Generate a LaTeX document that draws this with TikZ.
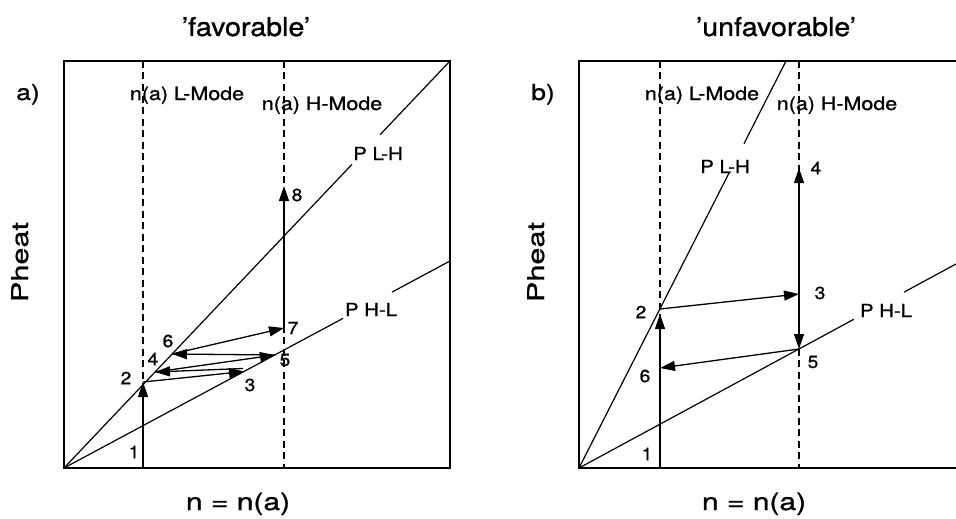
\documentclass[tikz,border=0pt]{standalone}
\usepackage{fontspec}
\setmainfont{TeX Gyre Heros}[UprightFeatures={FakeBold=0.9}]
\usepackage{graphicx}
\usetikzlibrary{arrows.meta,calc}
\newcommand\sx[2]{\scalebox{#1}[1]{#2}}
\begin{document}
\begin{tikzpicture}[x=1pt,y=-1pt,
  frame/.style={line width=1.4pt},
  curve/.style={line width=1.2pt},
  modeline/.style={line width=1.5pt, dash pattern=on 7pt off 4.5pt},
  flow/.style={line width=1.3pt, -{Triangle[length=15pt,width=10pt]}},
  ttl/.style={font=\fontsize{26}{30}\selectfont, anchor=base, inner sep=0pt},
  axl/.style={font=\fontsize{24}{28}\selectfont, anchor=base, inner sep=0pt},
  modelbl/.style={font=\fontsize{18.5}{22}\selectfont, anchor=base, inner sep=0pt},
  plbl/.style={font=\fontsize{18}{21}\selectfont, anchor=base, inner sep=0pt},
  num/.style={font=\fontsize{17.5}{20}\selectfont, anchor=center, inner sep=0pt},
  panl/.style={font=\fontsize{22}{26}\selectfont, anchor=base, inner sep=0pt},
  pheat/.style={font=\fontsize{23}{27}\selectfont, anchor=base, rotate=90, inner sep=0pt}]
\fill[white] (0,0) rectangle (956,519);
\useasboundingbox (0,0) rectangle (956,519);

%% ---------------- panel a ----------------
\coordinate (Oa) at (64,468);
\coordinate (TRa) at (450,61);
\coordinate (Ea) at (450,261);
\coordinate (LaT) at (143,61);
\coordinate (LaB) at (143,468);
\coordinate (HaT) at (284,61);
\coordinate (HaB) at (284,468);
\draw[frame] (64,61) rectangle (450,468);
\draw[modeline] (LaT) -- (LaB);
\draw[modeline] (HaT) -- (HaB);
\draw[curve] (Oa) -- ($(Oa)!0.746!(TRa)$);
\draw[curve] ($(Oa)!0.819!(TRa)$) -- (TRa);
\draw[curve] (Oa) -- ($(Oa)!0.723!(Ea)$);
\draw[curve] ($(Oa)!0.850!(Ea)$) -- (Ea);

\coordinate (a2) at (143,382);
\coordinate (a3) at (244,371.5);
\coordinate (a3u) at (243,368.5);
\coordinate (a4) at (155,372);
\coordinate (a5) at (275,355);
\coordinate (a6) at (172,354);
\coordinate (a7) at (284,328);
\coordinate (a8) at (284,186);
\draw[flow] (LaB) -- (a2);
\draw[flow] (a2) -- (a3);
\draw[flow] (a3u) -- (a4);
\draw[flow] (a4) -- (a5);
\draw[flow] (a5) -- (a6);
\draw[flow] (a6) -- (a7);
\draw[flow] (a7) -- (a8);

\node[num] (na1) at (134,452) {\sx{1.1}{1}};
\node[num] (na2) at (126,378) {\sx{1.1}{2}};
\node[num] (na3) at (250,385) {\sx{1.1}{3}};
\node[num] (na4) at (153,359) {\sx{1.1}{4}};
\node[num] (na5) at (285,360) {\sx{1.1}{5}};
\node[num] (na6) at (168,341) {\sx{1.1}{6}};
\node[num] (na7) at (293,328) {\sx{1.1}{7}};
\node[num] (na8) at (297,195) {\sx{1.1}{8}};

\node[ttl] (ta) at (246,36) {\sx{1.1}{’favorable’}};
\node[panl] (pa) at (28,100) {\sx{1.2}{a)}};
\node[modelbl] (lma) at (187,100) {\sx{1.16}{n(a) L-Mode}};
\node[modelbl] (hma) at (322,110) {\sx{1.16}{n(a) H-Mode}};
\node[plbl] (plha) at (378,160) {\sx{1.13}{P L-H}};
\node[plbl] (phla) at (371,316) {\sx{1.13}{P H-L}};
\node[axl] (xa) at (238,510) {\sx{1.25}{n = n(a)}};
\node[pheat] (ya) at (28,262) {\sx{1.33}{Pheat}};

%% ---------------- panel b ----------------
\coordinate (Ob) at (579,468);
\coordinate (TRb) at (786,61);
\coordinate (Eb) at (956,264);
\coordinate (LbT) at (660,61);
\coordinate (LbB) at (660,468);
\coordinate (HbT) at (799,61);
\coordinate (HbB) at (799,468);
\draw[frame] (960,61) -- (579,61) -- (579,468) -- (960,468);
\draw[modeline] (LbT) -- (LbB);
\draw[modeline] (HbT) -- (HbB);
\draw[curve] (Ob) -- ($(Ob)!0.725!(TRb)$);
\draw[curve] ($(Ob)!0.797!(TRb)$) -- (TRb);
\draw[curve] (Ob) -- ($(Ob)!0.729!(Eb)$);
\draw[curve] ($(Ob)!0.862!(Eb)$) -- (Eb);

\coordinate (b2) at (660,309);
\coordinate (b2t) at (660,314);
\coordinate (b3) at (799,294);
\coordinate (b4) at (799,168);
\coordinate (b5) at (799,349);
\coordinate (b6) at (660,368);
\draw[flow] (LbB) -- (b2t);
\draw[flow] (b2) -- (b3);
\draw[flow] (b3) -- (b4);
\draw[flow] (b3) -- (b5);
\draw[flow] (b5) -- (b6);

\node[num] (nb1) at (647,454) {\sx{1.1}{1}};
\node[num] (nb2) at (641,312) {\sx{1.1}{2}};
\node[num] (nb3) at (820,293) {\sx{1.1}{3}};
\node[num] (nb4) at (816,168) {\sx{1.1}{4}};
\node[num] (nb5) at (813,362) {\sx{1.1}{5}};
\node[num] (nb6) at (645,376) {\sx{1.1}{6}};

\node[ttl] (tb) at (776,36) {\sx{1.1}{’unfavorable’}};
\node[panl] (pb) at (543,100) {\sx{1.2}{b)}};
\node[modelbl] (lmb) at (702,100) {\sx{1.16}{n(a) L-Mode}};
\node[modelbl] (hmb) at (837,110) {\sx{1.16}{n(a) H-Mode}};
\node[plbl] (plhb) at (725,173) {\sx{1.13}{P L-H}};
\node[plbl] (phlb) at (886,317) {\sx{1.13}{P H-L}};
\node[axl] (xb) at (754,510) {\sx{1.25}{n = n(a)}};
\node[pheat] (yb) at (544,262) {\sx{1.33}{Pheat}};
\end{tikzpicture}
\end{document}
